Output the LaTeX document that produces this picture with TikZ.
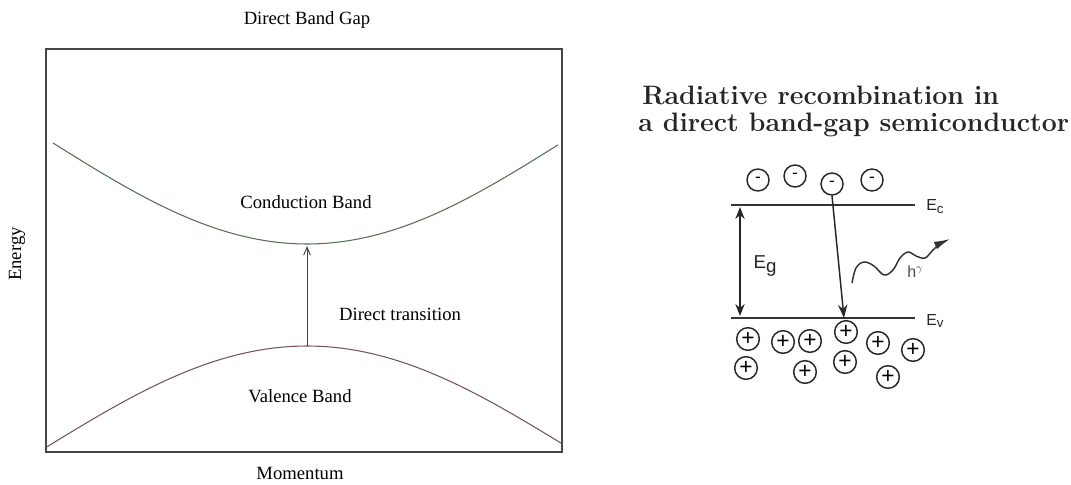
\documentclass[tikz,border=0pt]{standalone}
\usepackage{fontspec}
\newfontfamily\serifb{Liberation Serif}
\newfontfamily\arialf{Liberation Sans}
\usetikzlibrary{arrows.meta}
\definecolor{cbcol}{RGB}{105,140,112}
\definecolor{vbcol}{RGB}{150,105,112}
\definecolor{frame}{RGB}{70,70,70}
\tikzset{
  lbl/.style={font=\serifb\fontsize{14}{16}\selectfont, inner sep=0pt},
  bigtitle/.style={font=\fontsize{20}{22}\selectfont\bfseries, inner sep=0pt, anchor=base west, text=black!85},
  sanslbl/.style={font=\arialf\fontsize{12}{14}\selectfont, inner sep=0pt, text=black!85},
  eminus/.style={circle, draw=black!85, line width=1.1pt, minimum size=16.5pt, inner sep=0pt, font=\arialf\fontsize{13}{13}\selectfont},
  hplus/.style={circle, draw=black!85, line width=1.1pt, minimum size=17pt, inner sep=0pt, font=\arialf\fontsize{17}{17}\selectfont},
  level/.style={line width=1.1pt, draw=black!80},
}
\begin{document}
\begin{tikzpicture}[x=0.75pt, y=-0.75pt]
\useasboundingbox (0,0) rectangle (1071,485);
% ---------- left: band diagram ----------
\node[lbl] (title) at (307,20) {Direct Band Gap};
\draw[line width=1.1pt, draw=frame] (46,49) rectangle (562,452);
\node[lbl, rotate=90] (energy) at (17,254) {Energy};
\node[lbl] (momentum) at (300,473) {Momentum};
\draw[cbcol!80!black, line width=0.8pt] plot[domain=-1:0.988, samples=80]
  ({307+254*\x}, {244 - 101*(1-cos(90*\x))});
\draw[vbcol!80!black, line width=0.8pt] plot[domain=-0.992:0.97, samples=80]
  ({307+262*\x}, {346 + 102*(1-cos(90*\x))});
\coordinate (vtop) at (307,346);
\coordinate (cmin) at (307,246);
\draw[line width=0.7pt, draw=black!75, -{Straight Barb[length=6pt,width=5pt]}] (vtop) -- (cmin);
\node[lbl] (cband) at (306,202) {Conduction Band};
\node[lbl] (dtrans) at (400,314) {Direct transition};
\node[lbl] (vband) at (300,396) {Valence Band};
% ---------- right: radiative recombination ----------
\node[bigtitle] (t1) at (642,104) {Radiative recombination in};
\node[bigtitle] (t2) at (638,132) {a direct band-gap semiconductor};
\coordinate (ecL) at (731,205);
\coordinate (ecR) at (915,205);
\coordinate (evL) at (731,318);
\coordinate (evR) at (915,318);
\draw[level] (ecL) -- (ecR);
\draw[level] (evL) -- (evR);
\node[sanslbl, anchor=west] (ec) at (926,207) {E\raisebox{-0.35ex}{\fontsize{10}{10}\selectfont c}};
\node[sanslbl, anchor=west] (ev) at (926,321) {E\raisebox{-0.35ex}{\fontsize{10}{10}\selectfont v}};
\node[sanslbl, font=\arialf\fontsize{14}{16}\selectfont] (eg) at (765,266) {E\raisebox{-0.5ex}{g}};
\coordinate (egT) at (740,207);
\coordinate (egB) at (740,316);
\draw[line width=1pt, draw=black!85, {Stealth[length=9pt,width=7pt]}-{Stealth[length=9pt,width=7pt]}] (egT) -- (egB);
% electrons
\node[eminus] (e1) at (758,180) {-};
\node[eminus] (e2) at (795,176) {-};
\node[eminus] (e3) at (832,184) {-};
\node[eminus] (e4) at (872,180) {-};
% holes
\node[hplus] (h1) at (748,339) {+};
\node[hplus] (h2) at (783,342) {+};
\node[hplus] (h3) at (810,341) {+};
\node[hplus] (h4) at (846,332) {+};
\node[hplus] (h5) at (878,343) {+};
\node[hplus] (h6) at (913,350) {+};
\node[hplus] (h7) at (746,368) {+};
\node[hplus] (h8) at (805,372) {+};
\node[hplus] (h9) at (845,362) {+};
\node[hplus] (h10) at (888,377) {+};
% recombination
\coordinate (land) at (844,318);
\draw[line width=1.1pt, draw=black!85, -{Stealth[length=10pt,width=7pt]}] (e3.south) -- (land);
% photon
\draw[line width=1.1pt, draw=black!80, -{Latex[length=12pt,width=6pt]}] plot[smooth, tension=0.6] coordinates
  {(852,283) (856,268) (864,262) (874,266) (884,275) (893,270) (900,258) (908,252) (916,256) (925,258) (933,250) (940,244) (950,239)};
\node[sanslbl, font=\arialf\fontsize{12}{14}\selectfont, text=black!70] (hnu) at (915,272) {h\raisebox{0.8ex}{\fontsize{8}{8}\selectfont$\gamma$}};
\end{tikzpicture}
\end{document}
